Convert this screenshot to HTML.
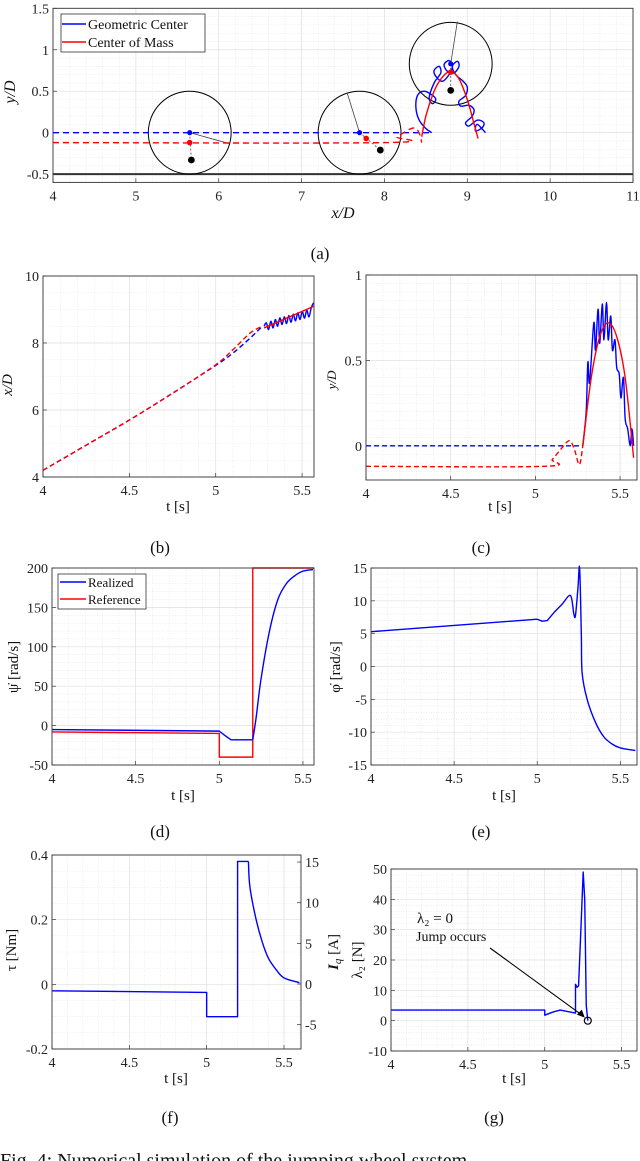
<!DOCTYPE html>
<html><head><meta charset="utf-8">
<style>
html,body{margin:0;padding:0;background:#fff;}
svg{display:block;font-family:"Liberation Serif",serif;}
</style></head>
<body>
<svg id="fig" width="640" height="1161" viewBox="0 0 640 1161" xmlns="http://www.w3.org/2000/svg"></svg>
<script>
// ---------- data ----------
const aBlueDashX=[4,8.57];
const aBlueDashY=[0,0];
const aRedDashX=[4,8.0,8.15,8.3,8.38,8.43,8.45];
const aRedDashY=[-0.12,-0.12,-0.05,0.04,0.05,-0.03,-0.12];
const aRedX=[8.45,8.5,8.58,8.65,8.75,8.82,8.9,9.0,9.07,9.13];
const aRedY=[-0.05,0.2,0.45,0.6,0.72,0.73,0.65,0.4,0.15,-0.07];
const aBlueX=[8.57,8.5,8.42,8.38,8.4,8.48,8.58,8.62,8.58,8.54,8.6,8.68,8.66,8.6,8.62,8.7,8.78,8.82,8.78,8.72,8.76,8.84,8.9,8.88,8.82,8.86,8.95,9.0,8.98,8.9,8.92,9.02,9.08,9.06,8.98,9.02,9.12,9.2,9.18,9.1,9.12,9.22];
const aBlueY=[0.0,0.05,0.15,0.3,0.45,0.5,0.45,0.4,0.35,0.42,0.6,0.72,0.8,0.75,0.68,0.62,0.7,0.8,0.87,0.82,0.74,0.72,0.8,0.86,0.8,0.7,0.62,0.55,0.45,0.38,0.32,0.33,0.28,0.2,0.12,0.08,0.15,0.12,0.06,0.02,0.1,0.0];
const wheelCx=[5.65,7.7,8.8];
const wheelCy=[0,0,0.83];
const spokeX=[6.12,7.55,8.88];
const spokeY=[-0.13,0.48,1.34];
const comX=[5.65,7.78,8.8];
const comY=[-0.12,-0.07,0.73];
const massX=[5.67,7.95,8.8];
const massY=[-0.33,-0.21,0.51];
const bDashT=[4,4.25,4.5,4.75,5,5.1,5.2,5.27];
const bRedDash=[4.2,4.95,5.7,6.5,7.35,7.8,8.3,8.5];
const bBlueDash=[4.2,4.95,5.7,6.5,7.33,7.7,8.15,8.5];
const bRedT=[5.28,5.57];
const bRed=[8.45,9.1];
const bBlueT=[5.28,5.293,5.306,5.319,5.332,5.345,5.358,5.371,5.384,5.397,5.41,5.423,5.436,5.449,5.462,5.475,5.488,5.501,5.514,5.527,5.54,5.553,5.566];
const bBlue=[8.5,8.6,8.4,8.65,8.45,8.7,8.5,8.75,8.55,8.78,8.58,8.82,8.62,8.86,8.66,8.9,8.7,8.94,8.74,8.98,8.78,9.05,9.2];
const cBlueDashT=[4,5.28];
const cBlueDash=[0,0];
const cRedDashT=[4,5.05,5.1,5.15,5.2,5.23,5.26,5.28];
const cRedDash=[-0.12,-0.12,-0.08,-0.02,0.03,-0.02,-0.11,0];
const cRedT=[5.28,5.33,5.38,5.43,5.48,5.53,5.58];
const cRed=[0,0.4,0.64,0.72,0.64,0.4,-0.07];
const cBlueT=[5.28,5.3,5.31,5.32,5.345,5.355,5.37,5.38,5.395,5.405,5.42,5.43,5.445,5.455,5.47,5.48,5.495,5.505,5.52,5.53,5.545,5.56,5.57,5.58];
const cBlue=[0,0.2,0.49,0.37,0.72,0.56,0.8,0.6,0.83,0.62,0.84,0.62,0.76,0.56,0.62,0.46,0.42,0.28,0.4,0.16,0.1,0.0,0.1,0];
const dRefT=[4,5,5,5.2,5.2,5.566];
const dRef=[-8,-10,-40,-40,200,200];
const dRealT=[4,5,5.03,5.07,5.2,5.22,5.25,5.3,5.35,5.4,5.45,5.5,5.56];
const dReal=[-5,-7,-12,-18,-18,10,60,120,160,180,190,196,198];
const eT=[4,5,5.03,5.06,5.1,5.15,5.2,5.22,5.23,5.245,5.255,5.265,5.27,5.3,5.35,5.4,5.45,5.5,5.59];
const eV=[5.3,7.2,6.9,7,8.2,9.5,10.8,8,7.8,12,15,5,-1,-5,-8.5,-10.7,-11.8,-12.4,-12.8];
const fT=[4,5,5,5.2,5.2,5.27,5.28,5.32,5.36,5.4,5.45,5.5,5.6];
const fV=[-0.02,-0.025,-0.1,-0.1,0.38,0.38,0.3,0.2,0.13,0.08,0.045,0.02,0.005];
const gT=[4,5,5,5.05,5.1,5.15,5.2,5.2,5.21,5.22,5.235,5.25,5.26,5.27,5.28];
const gV=[3.5,3.5,1.8,2.8,3.5,3,2.5,12,11,11.5,30,49,40,5,0];
const aXTicks=[4,5,6,7,8,9,10,11];
const aYTicks=[-0.5,0,0.5,1,1.5];
const tTicks=[4,4.5,5,5.5];
const bYTicks=[4,6,8,10];
const cYTicks=[0,0.5,1];
const dYTicks=[-50,0,50,100,150,200];
const eYTicks=[-15,-10,-5,0,5,10,15];
const fYTicks=[-0.2,0,0.2,0.4];
const fRTicks=[-5,0,5,10,15];
const gYTicks=[-10,0,10,20,30,40,50];

// ---------- drawing ----------
const NS="http://www.w3.org/2000/svg";
const svg=document.getElementById('fig');
function mk(tag,attrs,parent){const e=document.createElementNS(NS,tag);for(const k in attrs)e.setAttribute(k,attrs[k]);(parent||svg).appendChild(e);return e;}
function P(c){
  c.sx=v=>c.L+(v-c.x0)/(c.x1-c.x0)*(c.R-c.L);
  c.sy=v=>c.B-(v-c.y0)/(c.y1-c.y0)*(c.B-c.T);
  const g=mk('g',{});
  
  
  c.g=g;
  for(let v=c.x0;v<=c.x1+1e-9;v+=c.xm){const x=c.sx(v);mk('line',{x1:x,x2:x,y1:c.T,y2:c.B,stroke:'#e4e4e4','stroke-width':0.6,'stroke-dasharray':'1,1.5'},g);}
  for(let v=c.y0;v<=c.y1+1e-9;v+=c.ym){const y=c.sy(v);mk('line',{x1:c.L,x2:c.R,y1:y,y2:y,stroke:'#e4e4e4','stroke-width':0.6,'stroke-dasharray':'1,1.5'},g);}
  c.xt.forEach(v=>{const x=c.sx(v);mk('line',{x1:x,x2:x,y1:c.T,y2:c.B,stroke:'#e0e0e0','stroke-width':0.7},g);
    const t=mk('text',{x:x,y:c.B+18,'text-anchor':'middle','font-size':14,fill:'#222'},g);t.textContent=v;
    
    mk('line',{x1:x,x2:x,y1:c.B,y2:c.B-4,stroke:'#333','stroke-width':0.7},g);});
  c.yt.forEach(v=>{const y=c.sy(v);mk('line',{x1:c.L,x2:c.R,y1:y,y2:y,stroke:'#e0e0e0','stroke-width':0.7},g);
    const t=mk('text',{x:c.L-4,y:y+5,'text-anchor':'end','font-size':14,fill:'#222'},g);t.textContent=v;
    
    mk('line',{x1:c.L,x2:c.L+4,y1:y,y2:y,stroke:'#333','stroke-width':0.7},g);});
  return c;
}
function frame(c){const r=mk('rect',{x:c.L,y:c.T,width:c.R-c.L,height:c.B-c.T,fill:'none',stroke:'#333','stroke-width':0.9},c.g);
  }
function line(c,xs,ys,color,dash,name,smooth){
  const pts=xs.map((x,i)=>[c.sx(x),c.sy(ys[i])]);
  let d='M'+pts[0][0].toFixed(2)+','+pts[0][1].toFixed(2);
  for(let i=1;i<pts.length;i++){
    if(smooth){
      const p0=pts[Math.max(0,i-2)],p1=pts[i-1],p2=pts[i],p3=pts[Math.min(pts.length-1,i+1)];
      const c1=[p1[0]+(p2[0]-p0[0])/6,p1[1]+(p2[1]-p0[1])/6];
      const c2=[p2[0]-(p3[0]-p1[0])/6,p2[1]-(p3[1]-p1[1])/6];
      d+='C'+c1[0].toFixed(2)+','+c1[1].toFixed(2)+' '+c2[0].toFixed(2)+','+c2[1].toFixed(2)+' '+p2[0].toFixed(2)+','+p2[1].toFixed(2);
    } else d+='L'+pts[i][0].toFixed(2)+','+pts[i][1].toFixed(2);
  }
  const p=mk('path',{d:d,fill:'none',stroke:color,'stroke-width':1.4,'stroke-dasharray':dash||'none','stroke-linejoin':'round'},c.g);
  return p;}
function txt(x,y,s,size,opts,name){const t=mk('text',Object.assign({x:x,y:y,'font-size':size,fill:'#111','text-anchor':'middle'},opts||{}));t.textContent=s;
  return t;}
function ylab(x,y,s,name,size){const t=txt(x,y,s,size||15,{transform:'rotate(-90 '+x+' '+y+')'},name);return t;}
const BLUE='#0000ff',RED='#ff0000';

// (a)
const A=P({name:'panel-a',L:53,R:633,T:8.3,B:182.4,x0:4,x1:11,y0:-0.6,y1:1.5,xt:aXTicks,yt:aYTicks,xm:0.2,ym:0.1});
mk('line',{x1:A.L,x2:A.R,y1:A.sy(-0.5),y2:A.sy(-0.5),stroke:'#333','stroke-width':2},A.g);
for(let i=0;i<wheelCx.length;i++){
  const cx=A.sx(wheelCx[i]),cy=A.sy(wheelCy[i]),r=A.sx(wheelCx[i]+0.5)-cx;
  const w=mk('circle',{cx:cx,cy:cy,r:r,fill:'none',stroke:'#000','stroke-width':1},A.g);
  
  mk('line',{x1:cx,y1:cy,x2:A.sx(spokeX[i]),y2:A.sy(spokeY[i]),stroke:'#444','stroke-width':0.8},A.g);
  mk('line',{x1:cx,y1:cy,x2:A.sx(massX[i]),y2:A.sy(massY[i]),stroke:'#444','stroke-width':0.8,'stroke-dasharray':'2,2'},A.g);
}
line(A,aBlueDashX,aBlueDashY,BLUE,'6,4','geometric-center-dashed');
line(A,aRedDashX,aRedDashY,RED,'6,4','center-of-mass-dashed',true);
line(A,aBlueX,aBlueY,BLUE,null,'geometric-center-path',true);
line(A,aRedX,aRedY,RED,null,'center-of-mass-path',true);
for(let i=0;i<wheelCx.length;i++){
  mk('circle',{cx:A.sx(wheelCx[i]),cy:A.sy(wheelCy[i]),r:2.6,fill:BLUE},A.g);
  mk('circle',{cx:A.sx(comX[i]),cy:A.sy(comY[i]),r:2.8,fill:RED},A.g);
  const m=mk('circle',{cx:A.sx(massX[i]),cy:A.sy(massY[i]),r:3.4,fill:'#000'},A.g);
  
}
frame(A);
{const lg=mk('g',{});
 mk('rect',{x:61,y:14,width:144,height:38,fill:'#fff',stroke:'#333','stroke-width':0.8},lg);
 mk('line',{x1:62,x2:86,y1:24,y2:24,stroke:BLUE,'stroke-width':1.5},lg);
 mk('line',{x1:62,x2:86,y1:42,y2:42,stroke:RED,'stroke-width':1.5},lg);
 txt(88,29,'Geometric Center',14,{'text-anchor':'start'},'legend-entry-geometric-center');
 txt(88,47,'Center of Mass',14,{'text-anchor':'start'},'legend-entry-center-of-mass');}
txt(343,218,'x/D',16,{'font-style':'italic'},'x-axis-title-a');
ylab(15,92,'y/D','y-axis-title-a',16).setAttribute('font-style','italic');
txt(320,259,'(a)',17,{},'caption-a');

// (b)
const Bp=P({name:'panel-b',L:43,R:314,T:276,B:477,x0:4,x1:5.569,y0:4,y1:10,xt:tTicks,yt:bYTicks,xm:0.1,ym:0.5});
line(Bp,bDashT,bBlueDash,BLUE,'5,3','xd-blue-dashed',true);
line(Bp,bDashT,bRedDash,RED,'5,3','xd-red-dashed',true);
line(Bp,bBlueT,bBlue,BLUE,null,'xd-blue',true);
line(Bp,bRedT,bRed,RED,null,'xd-red');
frame(Bp);
txt(178,511,'t [s]',15,{},'x-axis-title-b');
ylab(12,385,'x/D','y-axis-title-b',15).setAttribute('font-style','italic');
txt(160,553,'(b)',17,{},'caption-b');

// (c)
const Cp=P({name:'panel-c',L:366,R:637,T:275,B:480,x0:4,x1:5.6,y0:-0.2,y1:1,xt:tTicks,yt:cYTicks,xm:0.1,ym:0.05});
line(Cp,cBlueDashT,cBlueDash,BLUE,'5,3','yd-blue-dashed');
line(Cp,cRedDashT,cRedDash,RED,'5,3','yd-red-dashed',true);
line(Cp,cBlueT,cBlue,BLUE,null,'yd-blue',true);
line(Cp,cRedT,cRed,RED,null,'yd-red',true);
frame(Cp);
txt(500,511,'t [s]',15,{},'x-axis-title-c');
ylab(336,380,'y/D','y-axis-title-c',13).setAttribute('font-style','italic');
txt(481,553,'(c)',17,{},'caption-c');

// (d)
const Dp=P({name:'panel-d',L:52,R:314,T:568,B:765,x0:4,x1:5.566,y0:-50,y1:200,xt:tTicks,yt:dYTicks,xm:0.1,ym:10});
line(Dp,dRefT,dRef,RED,null,'reference-line');
line(Dp,dRealT.slice(0,5),dReal.slice(0,5),BLUE,null,'realized-line-start');
line(Dp,dRealT.slice(4),dReal.slice(4),BLUE,null,'realized-line-rise',true);
frame(Dp);
{const lg=mk('g',{});
 mk('rect',{x:58,y:574,width:88,height:35,fill:'#fff',stroke:'#333','stroke-width':0.8},lg);
 mk('line',{x1:60,x2:86,y1:582,y2:582,stroke:BLUE,'stroke-width':1.5},lg);
 mk('line',{x1:60,x2:86,y1:599,y2:599,stroke:RED,'stroke-width':1.5},lg);
 txt(88,587,'Realized',13,{'text-anchor':'start'},'legend-entry-realized');
 txt(88,604,'Reference',13,{'text-anchor':'start'},'legend-entry-reference');}
txt(183,800,'t [s]',15,{},'x-axis-title-d');
ylab(18,667,'ψ̇ [rad/s]','y-axis-title-d',15);
txt(160,837,'(d)',17,{},'caption-d');

// (e)
const Ep=P({name:'panel-e',L:371,R:637,T:568,B:765,x0:4,x1:5.6,y0:-15,y1:15,xt:tTicks,yt:eYTicks,xm:0.1,ym:1});
line(Ep,eT.slice(0,5),eV.slice(0,5),BLUE,null,'phi-dot-line-start');
line(Ep,eT.slice(4),eV.slice(4),BLUE,null,'phi-dot-line-spike',true);
frame(Ep);
txt(504,800,'t [s]',15,{},'x-axis-title-e');
ylab(340,667,'φ̇ [rad/s]','y-axis-title-e',15);
txt(481,837,'(e)',17,{},'caption-e');

// (f)
const Fp=P({name:'panel-f',L:52,R:301,T:855,B:1049,x0:4,x1:5.61,y0:-0.2,y1:0.4,xt:tTicks,yt:fYTicks,xm:0.1,ym:0.05});
line(Fp,fT.slice(0,6),fV.slice(0,6),BLUE,null,'torque-line-steps');
line(Fp,fT.slice(5),fV.slice(5),BLUE,null,'torque-line-decay',true);
frame(Fp);
fRTicks.forEach(v=>{const y=984-v*8.13;
  mk('line',{x1:Fp.R,x2:Fp.R-4,y1:y,y2:y,stroke:'#333','stroke-width':0.7},Fp.g);
  txt(Fp.R+4,y+5,String(v),14,{'text-anchor':'start',fill:'#222'},'right-y-tick-label');});
txt(176,1083,'t [s]',15,{},'x-axis-title-f');
ylab(16,950,'τ [Nm]','y-axis-title-f',15);
{const t=ylab(338,952,'','right-y-axis-title-f',15);
 const s1=mk('tspan',{'font-style':'italic','font-weight':'bold'},t);s1.textContent='I';
 const s2=mk('tspan',{'font-style':'italic','font-size':11,dy:3},t);s2.textContent='q';
 const s3=mk('tspan',{dy:-3},t);s3.textContent=' [A]';}
txt(170,1123,'(f)',17,{},'caption-f');

// (g)
const Gp=P({name:'panel-g',L:391,R:637,T:869,B:1051,x0:4,x1:5.6,y0:-10,y1:50,xt:tTicks,yt:gYTicks,xm:0.1,ym:2});
line(Gp,gT,gV,BLUE,null,'lambda2-line');
frame(Gp);
{const cx=Gp.sx(gT[gT.length-1]),cy=Gp.sy(gV[gV.length-1]);
 const c=mk('circle',{cx:cx,cy:cy,r:3.5,fill:'none',stroke:'#000','stroke-width':1.2});
 
 mk('line',{x1:490,y1:948,x2:cx-5,y2:cy-5,stroke:'#000','stroke-width':1.1});
 mk('polygon',{points:(cx-3)+','+(cy-3)+' '+(cx-11)+','+(cy-6)+' '+(cx-6)+','+(cy-11),fill:'#000'});}
txt(417,923,'λ₂ = 0',15,{'text-anchor':'start'},'annotation-lambda');
txt(416,941,'Jump occurs',14,{'text-anchor':'start'},'annotation-jump');
txt(514,1083,'t [s]',15,{},'x-axis-title-g');
ylab(362,960,'λ₂ [N]','y-axis-title-g',15);
txt(494,1123,'(g)',17,{},'caption-g');

txt(0,1167,'Fig. 4: Numerical simulation of the jumping wheel system',20,{'text-anchor':'start'},'figure-caption');
</script>
</body></html>
